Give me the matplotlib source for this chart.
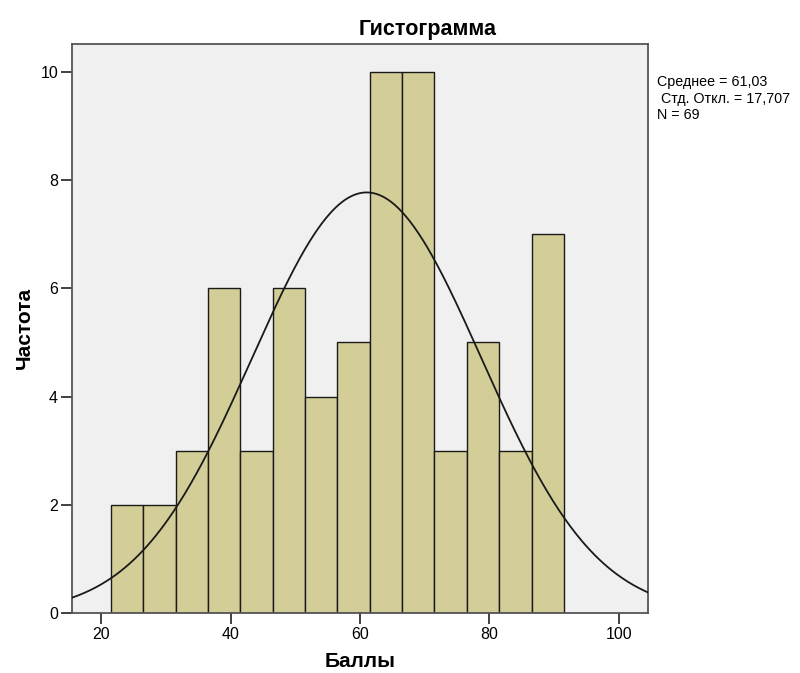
import numpy as np
import matplotlib
matplotlib.use("Agg")
import matplotlib.pyplot as plt

# histogram bins (width 5) and counts read from the SPSS output
bin_edges = [21.5, 26.5, 31.5, 36.5, 41.5, 46.5, 51.5, 56.5, 61.5,
             66.5, 71.5, 76.5, 81.5, 86.5, 91.5]
counts = [2, 2, 3, 6, 3, 6, 4, 5, 10, 10, 3, 5, 3, 7]

mean_val = 61.03
std_val = 17.707
n_val = 69

xticks = [20, 40, 60, 80, 100]
yticks = [0, 2, 4, 6, 8, 10]

plt.rcParams['font.family'] = ['Liberation Sans', 'DejaVu Sans']

fig = plt.figure(figsize=(8, 6.73), dpi=100)
ax = fig.add_axes([0.09, 0.089, 0.72, 0.846])
ax.set_facecolor('#f0f0f0')

lefts = np.array(bin_edges[:-1])
widths = np.diff(bin_edges)
ax.bar(lefts, counts, width=widths, align='edge', color='#d3ce97',
       edgecolor='#1a1a1a', linewidth=1.0, zorder=2)

# fitted normal curve scaled to counts
xs = np.linspace(15.5, 104.5, 400)
bw = widths[0]
ys = n_val * bw / (std_val * np.sqrt(2 * np.pi)) * np.exp(-0.5 * ((xs - mean_val) / std_val) ** 2)
ax.plot(xs, ys, color='#1a1a1a', linewidth=1.3, zorder=3)

ax.set_xlim(15.5, 104.5)
ax.set_ylim(0, 10.52)
ax.set_xticks(xticks)
ax.set_yticks(yticks)
ax.tick_params(direction='out', length=8, width=1.3, color='#333333',
               labelsize=11.5, pad=2)
for s in ax.spines.values():
    s.set_color('#555555')
    s.set_linewidth(1.3)

fig.text(428 / 800, 1 - 29 / 673, 'Гистограмма', fontsize=15.5,
         fontweight='bold', ha='center', va='center')
ax.set_xlabel('Баллы', fontsize=15, fontweight='bold', labelpad=7)
ax.set_ylabel('Частота', fontsize=15, fontweight='bold', labelpad=5)

fig.text(0.821, 0.888, 'Среднее = 61,03\n Стд. Откл. = 17,707\nN = 69',
         fontsize=10.3, va='top', ha='left', linespacing=1.2)

fig.savefig('out.png', dpi=100)
